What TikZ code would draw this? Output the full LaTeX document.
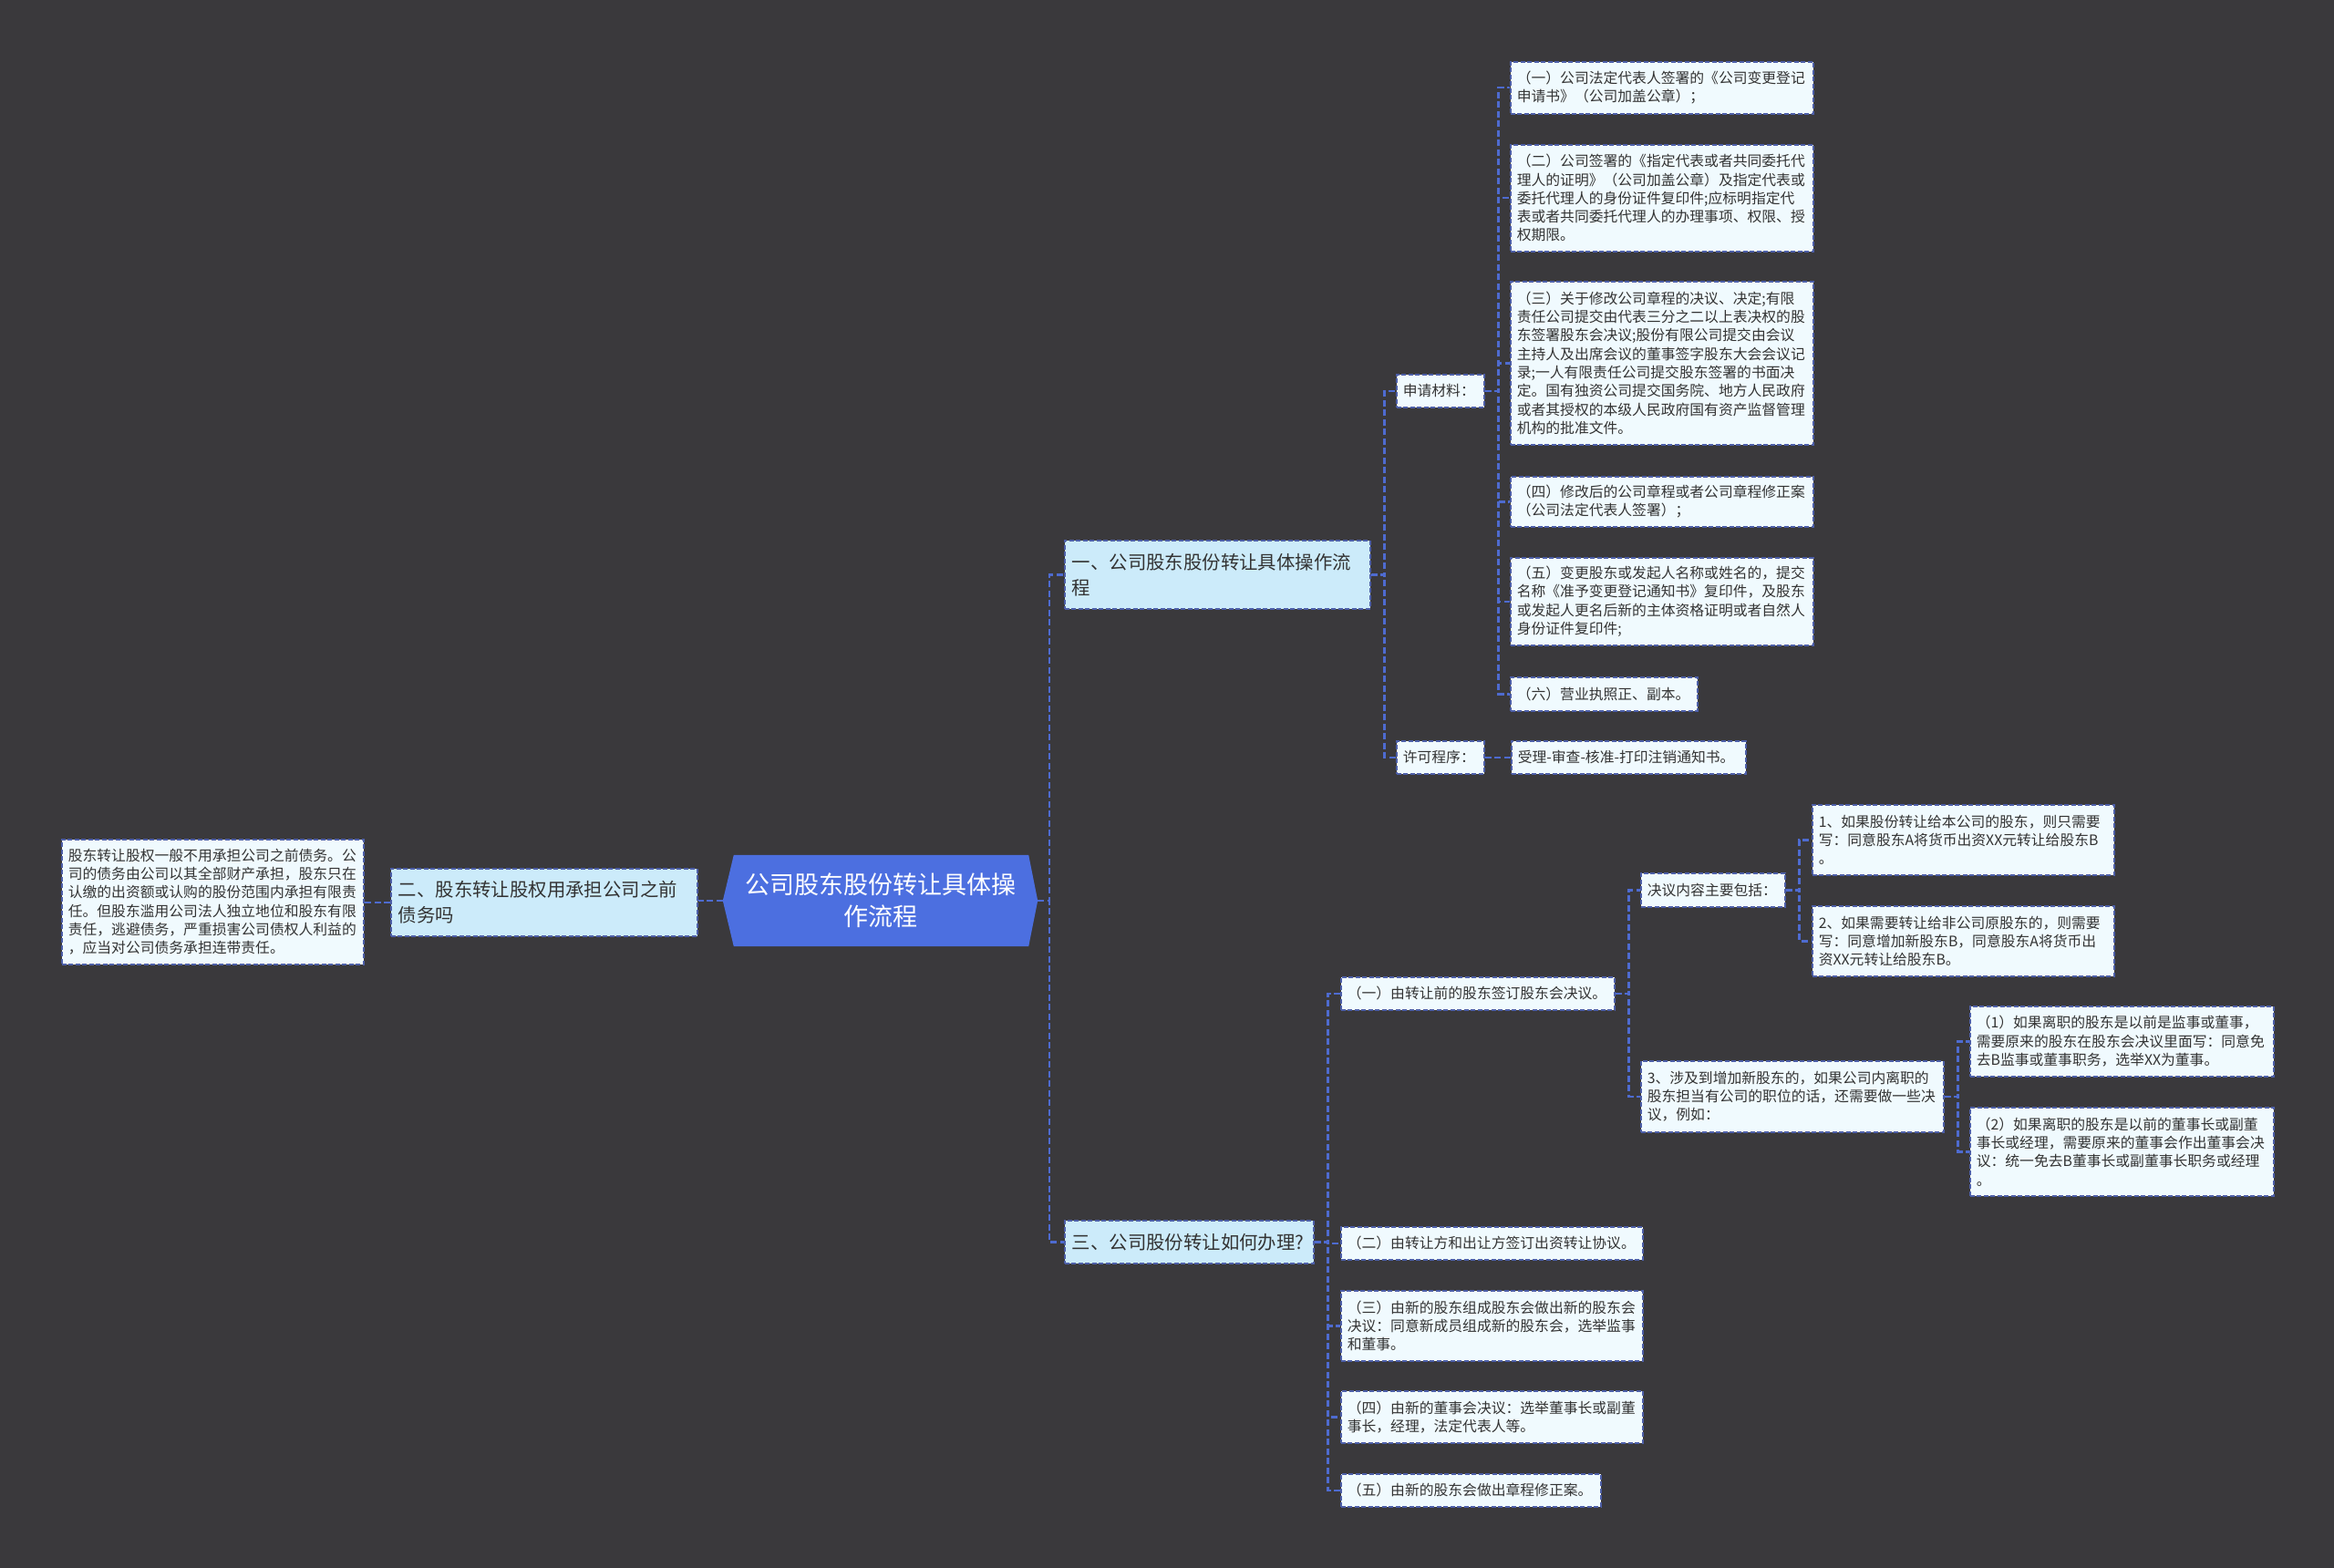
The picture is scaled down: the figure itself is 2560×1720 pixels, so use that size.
\documentclass[tikz,border=0pt]{standalone}
\usepackage{fontspec}
\setmainfont{Noto Sans CJK SC}
\definecolor{bg}{HTML}{3A393C}
\definecolor{rootfill}{HTML}{4C6FE0}
\definecolor{branchfill}{HTML}{CCEBFA}
\definecolor{leaffill}{HTML}{F0FAFE}
\definecolor{boxline}{HTML}{4D5FA8}
\definecolor{connline}{HTML}{4E6BD0}
\definecolor{txt}{HTML}{333333}
\tikzset{
  box/.style={draw=boxline, line width=1.6pt, dash pattern=on 5pt off 2.5pt, text=txt, anchor=north west, inner ysep=0pt, align=left},
  leaf/.style={box, fill=leaffill, font=\fontsize{15.8}{20.3}\selectfont, inner xsep=7pt},
  branch/.style={box, fill=branchfill, font=\fontsize{20.4}{28}\selectfont, inner xsep=8pt},
  rootnode/.style={font=\fontsize{27}{35}\selectfont, text=white, align=center, inner sep=0pt},
  conn/.style={draw=connline, line width=2.4pt, dash pattern=on 7pt off 3.5pt},
}
\begin{document}
\begin{tikzpicture}[x=1pt,y=-1pt]
\useasboundingbox (0,0) rectangle (2560,1720);
\fill[bg] (0,0) rectangle (2560,1720);

% root
\node[rootnode, minimum width=345pt, minimum height=100pt] (root) at (965.5,988) {公司股东股份转让具体操\\作流程};
\fill[rootfill] (root.west) -- ([xshift=12pt]root.north west) -- ([xshift=-10pt]root.north east) -- (root.east) -- ([xshift=-10pt]root.south east) -- ([xshift=12pt]root.south west) -- cycle;
\node[rootnode, minimum width=345pt, minimum height=100pt] at (root.center) {公司股东股份转让具体操\\作流程};

% branches
\node[branch, text width=319pt, minimum height=75pt] (b1) at (1167,592) {一、公司股东股份转让具体操作流\\程};
\node[branch, text width=320pt, minimum height=74pt] (b2) at (428,952) {二、股东转让股权用承担公司之前\\债务吗};
\node[branch, text width=257pt, minimum height=47pt] (b3) at (1167,1338) {三、公司股份转让如何办理?};

% left leaf
\node[leaf, text width=317pt, minimum height=137pt] (ll) at (67,920) {股东转让股权一般不用承担公司之前债务。公\\司的债务由公司以其全部财产承担，股东只在\\认缴的出资额或认购的股份范围内承担有限责\\任。但股东滥用公司法人独立地位和股东有限\\责任，逃避债务，严重损害公司债权人利益的\\，应当对公司债务承担连带责任。};

% branch 1 children
\node[leaf, text width=82pt, minimum height=36pt] (sq) at (1531,410) {申请材料：};
\node[leaf, text width=82pt, minimum height=36pt] (xk) at (1531,812) {许可程序：};
\node[leaf, text width=243pt, minimum height=36pt] (sl) at (1657,812) {受理-审查-核准-打印注销通知书。};

\node[leaf, text width=318pt, minimum height=57pt] (l1) at (1656,67) {（一）公司法定代表人签署的《公司变更登记\\申请书》（公司加盖公章）；};
\node[leaf, text width=318pt, minimum height=117pt] (l2) at (1656,158) {（二）公司签署的《指定代表或者共同委托代\\理人的证明》（公司加盖公章）及指定代表或\\委托代理人的身份证件复印件;应标明指定代\\表或者共同委托代理人的办理事项、权限、授\\权期限。};
\node[leaf, text width=318pt, minimum height=179pt] (l3) at (1656,308) {（三）关于修改公司章程的决议、决定;有限\\责任公司提交由代表三分之二以上表决权的股\\东签署股东会决议;股份有限公司提交由会议\\主持人及出席会议的董事签字股东大会会议记\\录;一人有限责任公司提交股东签署的书面决\\定。国有独资公司提交国务院、地方人民政府\\或者其授权的本级人民政府国有资产监督管理\\机构的批准文件。};
\node[leaf, text width=318pt, minimum height=55pt] (l4) at (1656,522) {（四）修改后的公司章程或者公司章程修正案\\（公司法定代表人签署）；};
\node[leaf, text width=318pt, minimum height=96pt] (l5) at (1656,611) {（五）变更股东或发起人名称或姓名的，提交\\名称《准予变更登记通知书》复印件，及股东\\或发起人更名后新的主体资格证明或者自然人\\身份证件复印件;};
\node[leaf, text width=191pt, minimum height=37pt] (l6) at (1656,742) {（六）营业执照正、副本。};

% branch 3 children
\node[leaf, text width=286pt, minimum height=36pt] (c1) at (1470,1071) {（一）由转让前的股东签订股东会决议。};
\node[leaf, text width=317pt, minimum height=36pt] (c2) at (1470,1345) {（二）由转让方和出让方签订出资转让协议。};
\node[leaf, text width=317pt, minimum height=77pt] (c3) at (1470,1415) {（三）由新的股东组成股东会做出新的股东会\\决议：同意新成员组成新的股东会，选举监事\\和董事。};
\node[leaf, text width=317pt, minimum height=57pt] (c4) at (1470,1525) {（四）由新的董事会决议：选举董事长或副董\\事长，经理，法定代表人等。};
\node[leaf, text width=271pt, minimum height=36pt] (c5) at (1470,1616) {（五）由新的股东会做出章程修正案。};

\node[leaf, text width=144pt, minimum height=37pt] (jy) at (1799,957) {决议内容主要包括：};
\node[leaf, text width=318pt, minimum height=78pt] (s3) at (1799,1163) {3、涉及到增加新股东的，如果公司内离职的\\股东担当有公司的职位的话，还需要做一些决\\议，例如：};
\node[leaf, text width=317pt, minimum height=77pt] (r1) at (1987,882) {1、如果股份转让给本公司的股东，则只需要\\写：同意股东A将货币出资XX元转让给股东B\\。};
\node[leaf, text width=317pt, minimum height=77pt] (r2) at (1987,993) {2、如果需要转让给非公司原股东的，则需要\\写：同意增加新股东B，同意股东A将货币出\\资XX元转让给股东B。};
\node[leaf, text width=319pt, minimum height=77pt] (p1) at (2160,1103) {（1）如果离职的股东是以前是监事或董事，\\需要原来的股东在股东会决议里面写：同意免\\去B监事或董事职务，选举XX为董事。};
\node[leaf, text width=319pt, minimum height=97pt] (p2) at (2160,1214) {（2）如果离职的股东是以前的董事长或副董\\事长或经理，需要原来的董事会作出董事会决\\议：统一免去B董事长或副董事长职务或经理\\。};

% connectors
\draw[conn] (root.east) -- ++(13,0) |- (b1.west);
\draw[conn] (root.east) -- ++(13,0) |- (b3.west);
\draw[conn] (root.west) -- (root.west -| b2.east);
\draw[conn] (b2.west) -- (b2.west -| ll.east);

\draw[conn] (b1.east) -- ++(15,0) |- (sq.west);
\draw[conn] (b1.east) -- ++(15,0) |- (xk.west);
\draw[conn] (xk.east) -- (sl.west);
\foreach \n in {l1,l2,l3,l4,l5,l6}{
  \draw[conn] (sq.east) -- ++(15,0) |- (\n.west);
}
\foreach \n in {c1,c2,c3,c4,c5}{
  \draw[conn] (b3.east) -- ++(15,0) |- (\n.west);
}
\draw[conn] (c1.east) -- ++(15,0) |- (jy.west);
\draw[conn] (c1.east) -- ++(15,0) |- (s3.west);
\draw[conn] (jy.east) -- ++(15,0) |- (r1.west);
\draw[conn] (jy.east) -- ++(15,0) |- (r2.west);
\draw[conn] (s3.east) -- ++(15,0) |- (p1.west);
\draw[conn] (s3.east) -- ++(15,0) |- (p2.west);
\end{tikzpicture}
\end{document}
